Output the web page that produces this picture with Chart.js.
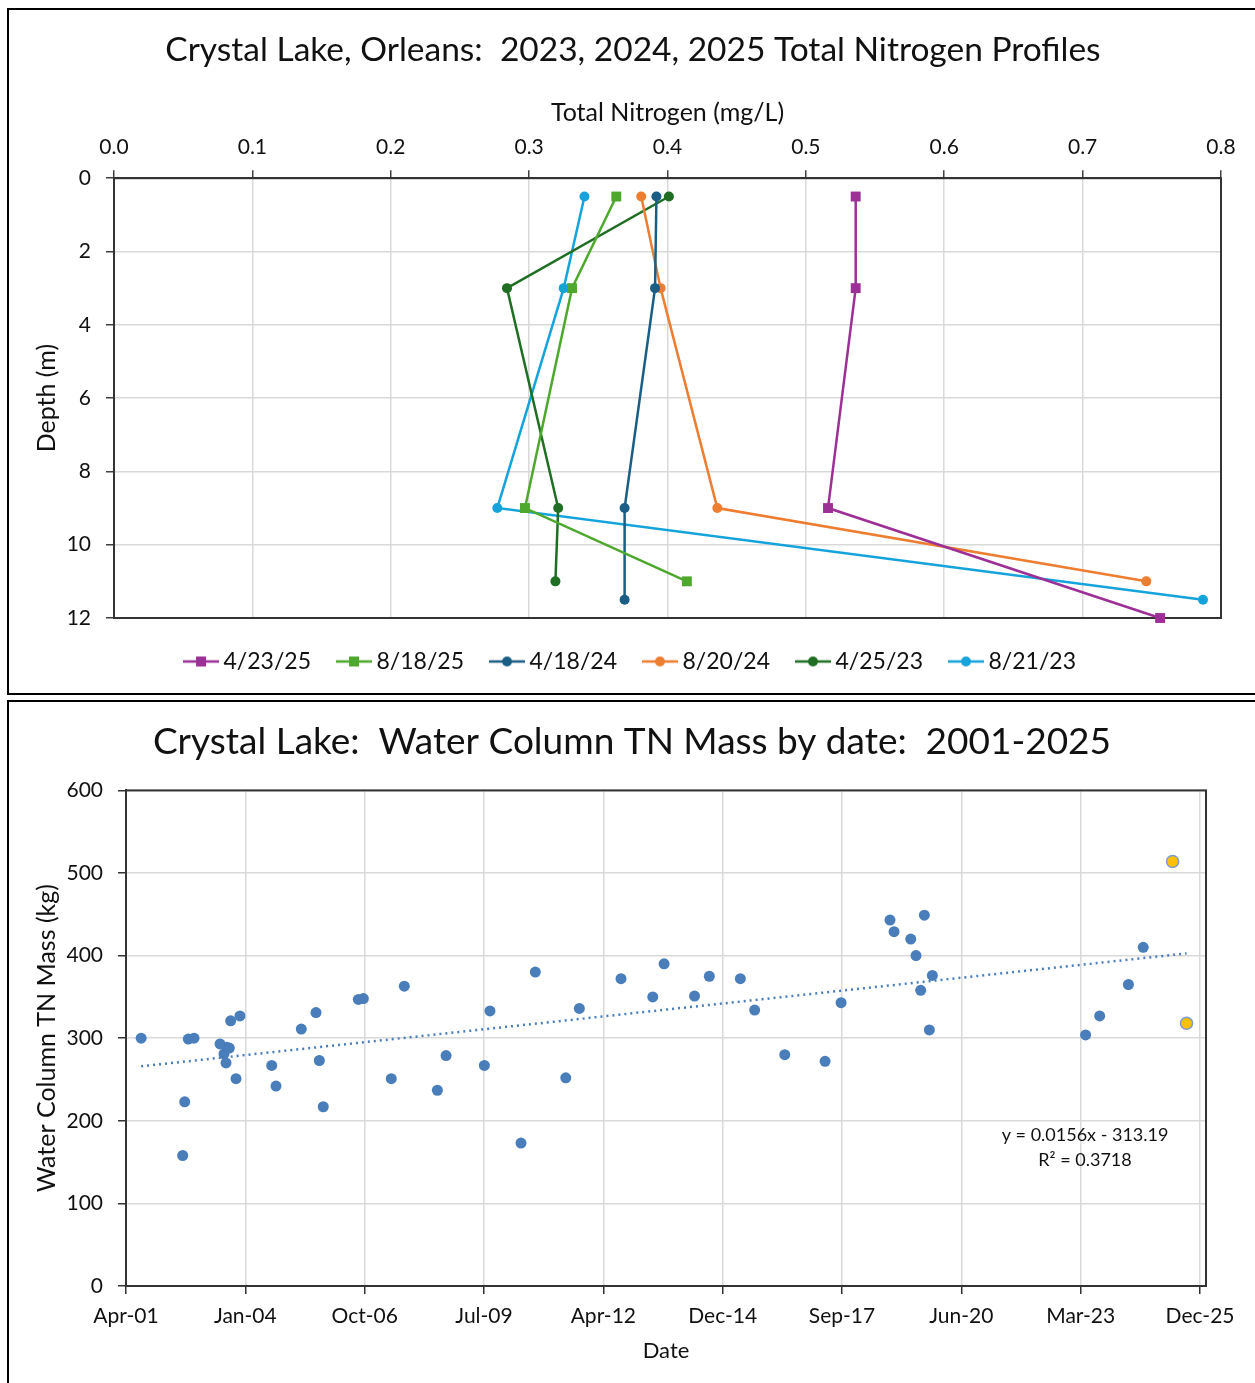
<!DOCTYPE html>
<html>
<head>
<meta charset="utf-8">
<title>Crystal Lake, Orleans – Total Nitrogen</title>
<script src="https://cdn.jsdelivr.net/npm/chart.js@4.4.1/dist/chart.umd.min.js"></script>
<style>
  html, body { margin: 0; padding: 0; background: #fff; }
  body { width: 1255px; height: 1383px; position: relative; overflow: hidden; }
  .wrap { position: absolute; left: 0; width: 1255px; }
  #wrapTop { top: 0; height: 683px; }
  #wrapBottom { top: 700px; height: 683px; }
  .frame { position: absolute; border: 2px solid #000; box-sizing: border-box; pointer-events: none; }
  #frameTop { left: 7px; top: 8px; width: 1260px; height: 687px; }
  #frameBottom { left: 7px; top: 700px; width: 1260px; height: 700px; }
</style>
</head>
<body>
<div class="wrap" id="wrapTop"><canvas id="profileChart"></canvas></div>
<div class="wrap" id="wrapBottom"><canvas id="massChart"></canvas></div>
<div class="frame" id="frameTop"></div>
<div class="frame" id="frameBottom"></div>

<script>
// ---- profile data (depth in m, TN in mg/L) ----
const profileNames = ["4/23/25", "8/18/25", "4/18/24", "8/20/24", "4/25/23", "8/21/23"];
const profileColors = ["#9c3096", "#4ea82e", "#1b5e85", "#ed7d31", "#1f6e23", "#16a3dc"];
const profileMarkers = ["rect", "rect", "circle", "circle", "circle", "circle"];

const depthApr25 = [0.5, 3, 9, 12];
const tnApr25 = [0.536, 0.536, 0.516, 0.756];
const depthAug25 = [0.5, 3, 9, 11];
const tnAug25 = [0.363, 0.331, 0.297, 0.414];
const depthApr24 = [0.5, 3, 9, 11.5];
const tnApr24 = [0.392, 0.391, 0.369, 0.369];
const depthAug24 = [0.5, 3, 9, 11];
const tnAug24 = [0.381, 0.395, 0.436, 0.746];
const depthApr23 = [0.5, 3, 9, 11];
const tnApr23 = [0.401, 0.284, 0.321, 0.319];
const depthAug23 = [0.5, 3, 9, 11.5];
const tnAug23 = [0.340, 0.325, 0.277, 0.787];

const profileDepths = [depthApr25, depthAug25, depthApr24, depthAug24, depthApr23, depthAug23];
const profileTN = [tnApr25, tnAug25, tnApr24, tnAug24, tnApr23, tnAug23];

// ---- water column TN mass by sampling date (kg) ----
const sampleDates = [
  "2001-08-24", "2002-08-07", "2002-08-24", "2002-09-23", "2002-11-10",
  "2003-06-16", "2003-07-19", "2003-08-05", "2003-08-11", "2003-09-02",
  "2003-09-13", "2003-10-28", "2003-11-30", "2004-08-22", "2004-09-27",
  "2005-04-27", "2005-08-28", "2005-09-25", "2005-10-28", "2006-08-18",
  "2006-09-29", "2007-05-21", "2007-09-07", "2008-06-10", "2008-08-22",
  "2009-07-09", "2009-08-25", "2010-05-12", "2010-09-09", "2011-05-22",
  "2011-09-13", "2012-08-27", "2013-05-20", "2013-08-23", "2014-05-05",
  "2014-09-06", "2015-05-24", "2015-09-21", "2016-05-30", "2017-05-03",
  "2017-09-14", "2018-10-29", "2018-12-02", "2019-04-21", "2019-06-04",
  "2019-07-13", "2019-08-13", "2019-09-24", "2019-10-19", "2023-04-25",
  "2023-08-21", "2024-04-18", "2024-08-20"
];
const sampleMass = [
  300, 158, 223, 299, 300,
  293, 281, 270, 289, 288,
  321, 251, 327, 267, 242,
  311, 331, 273, 217, 347,
  348, 251, 363, 237, 279,
  267, 333, 173, 380, 252,
  336, 372, 350, 390, 351,
  375, 372, 334, 280, 272,
  343, 443, 429, 420, 400,
  358, 449, 310, 376, 304,
  327, 365, 410
];
// 2025 samples, highlighted
const recentDates = ["2025-04-23", "2025-08-18"];
const recentMass = [514, 318];

// Excel linear trendline as printed on the chart (x = Excel date serial)
const trendSlope = 0.0156;
const trendIntercept = -313.19;
const trendText = ["y = 0.0156x - 313.19", "R\u00b2 = 0.3718"];

// date axis: Excel serials, one tick every 1000 days
const dateAxisMin = 37000;
const dateAxisMax = 46050;
const dateTickStep = 1000;
const monthNames = ["Jan", "Feb", "Mar", "Apr", "May", "Jun", "Jul", "Aug", "Sep", "Oct", "Nov", "Dec"];

Chart.defaults.font.family = "Lato, 'Open Sans', sans-serif";
Chart.defaults.color = "#111";
Chart.defaults.animation = false;

// ISO date -> Excel serial day number
function toSerial(iso) {
  const [y, m, d] = iso.split("-").map(Number);
  return Date.UTC(y, m - 1, d) / 86400000 + 25569;
}
function serialLabel(v) {
  const d = new Date((v - 25569) * 86400000);
  return monthNames[d.getUTCMonth()] + "-" + String(d.getUTCFullYear() % 100).padStart(2, "0");
}

// line + marker swatch for the legend, like Excel draws it
function legendSwatch(color, marker) {
  const c = document.createElement("canvas");
  c.width = 36; c.height = 14;
  const g = c.getContext("2d");
  g.strokeStyle = color; g.lineWidth = 2.5;
  g.beginPath(); g.moveTo(0, 7); g.lineTo(36, 7); g.stroke();
  g.fillStyle = color;
  if (marker === "rect") g.fillRect(13, 2, 10, 10);
  else { g.beginPath(); g.arc(18, 7, 5, 0, Math.PI * 2); g.fill(); }
  return c;
}

// plot area frame drawn under the series
const plotFrame = {
  id: "plotFrame",
  beforeDatasetsDraw(chart, args, opts) {
    const a = chart.chartArea, ctx = chart.ctx;
    ctx.save();
    ctx.strokeStyle = opts.color || "#333";
    ctx.lineWidth = opts.width || 2;
    ctx.strokeRect(a.left, a.top, a.right - a.left, a.bottom - a.top);
    ctx.restore();
  }
};

// ---- chart 1: depth profiles ----
const profileSets = profileNames.map((name, i) => ({
  label: name,
  data: profileDepths[i].map((d, k) => ({ x: profileTN[i][k], y: d })),
  showLine: true,
  clip: false,
  borderColor: profileColors[i],
  backgroundColor: profileColors[i],
  borderWidth: 2.5,
  pointStyle: profileMarkers[i],
  pointRadius: profileMarkers[i] === "rect" ? 7 : 5,
  pointBorderWidth: 0,
  swatch: legendSwatch(profileColors[i], profileMarkers[i])
}));

new Chart(document.getElementById("profileChart"), {
  type: "scatter",
  data: { datasets: profileSets },
  options: {
    responsive: true,
    maintainAspectRatio: false,
    layout: { padding: { left: 45, right: 34, top: 0, bottom: 0 } },
    plugins: {
      title: {
        display: true,
        text: "Crystal Lake, Orleans:  2023, 2024, 2025 Total Nitrogen Profiles",
        font: { size: 33.5, weight: "normal" },
        color: "#111",
        padding: { top: 30, bottom: 0 }
      },
      legend: {
        position: "bottom",
        labels: {
          usePointStyle: true,
          pointStyleWidth: 22,
          padding: 32,
          font: { size: 23 },
          color: "#111",
          generateLabels: (chart) => chart.data.datasets.map((ds, i) => ({
            text: ds.label,
            pointStyle: ds.swatch,
            fillStyle: ds.borderColor,
            strokeStyle: ds.borderColor,
            lineWidth: 0,
            fontColor: "#111",
            datasetIndex: i,
            hidden: false
          }))
        }
      },
      tooltip: { enabled: false },
      plotFrame: { color: "#333", width: 2 }
    },
    scales: {
      x: {
        type: "linear",
        position: "top",
        min: 0,
        max: 0.8,
        ticks: { stepSize: 0.1, padding: 10, font: { size: 21 }, color: "#111", callback: (v) => v.toFixed(1) },
        grid: { color: "#d9d9d9", lineWidth: 1.5, tickColor: "#404040", tickLength: 8, tickWidth: 1.5 },
        border: { color: "#333", width: 2 },
        title: { display: true, text: "Total Nitrogen (mg/L)", font: { size: 25 }, color: "#111", padding: { top: 28, bottom: 0 } },
        afterFit: (s) => { s.height = 108; }
      },
      y: {
        type: "linear",
        reverse: true,
        min: 0,
        max: 12,
        ticks: { stepSize: 2, padding: 15, font: { size: 21 }, color: "#111" },
        grid: { color: "#d9d9d9", lineWidth: 1.5, tickColor: "#404040", tickLength: 8, tickWidth: 1.5 },
        border: { color: "#333", width: 2 },
        title: { display: true, text: "Depth (m)", font: { size: 25 }, color: "#111", padding: { top: -13, bottom: 0 } },
        afterFit: (s) => { s.width = 69; }
      }
    }
  },
  plugins: [plotFrame]
});

// ---- chart 2: water column TN mass ----
const massPoints = sampleDates.map((d, i) => ({ x: toSerial(d), y: sampleMass[i] }));
const recentPoints = recentDates.map((d, i) => ({ x: toSerial(d), y: recentMass[i] }));
const allX = massPoints.concat(recentPoints).map((p) => p.x);
const trendX = [Math.min(...allX), Math.max(...allX)];
const trendPoints = trendX.map((x) => ({ x: x, y: trendSlope * x + trendIntercept }));

const trendLabel = {
  id: "trendLabel",
  afterDraw(chart) {
    const a = chart.chartArea, ctx = chart.ctx;
    const cx = a.left + (a.right - a.left) * 0.888;
    const cy = a.top + (a.bottom - a.top) * 0.696;
    ctx.save();
    ctx.font = "18px Lato, 'Open Sans', sans-serif";
    ctx.fillStyle = "#111";
    ctx.textAlign = "center";
    ctx.textBaseline = "middle";
    ctx.fillText(trendText[0], cx, cy);
    ctx.fillText(trendText[1], cx, cy + 25);
    ctx.restore();
  }
};

new Chart(document.getElementById("massChart"), {
  type: "scatter",
  data: {
    datasets: [
      {
        label: "Linear trend",
        data: trendPoints,
        showLine: true,
        borderColor: "#4a7ebb",
        borderWidth: 2.5,
        borderDash: [2, 4],
        pointRadius: 0,
        order: 0
      },
      {
        label: "2025",
        data: recentPoints,
        backgroundColor: "#ffc000",
        borderColor: "#7b9cd0",
        borderWidth: 1.5,
        pointRadius: 6,
        order: 1
      },
      {
        label: "TN mass",
        data: massPoints,
        backgroundColor: "#4a7ebb",
        borderColor: "#4a7ebb",
        borderWidth: 0,
        pointRadius: 5.5,
        order: 2
      }
    ]
  },
  options: {
    responsive: true,
    maintainAspectRatio: false,
    layout: { padding: { left: 58, right: 49, top: 0, bottom: 0 } },
    plugins: {
      title: {
        display: true,
        text: "Crystal Lake:  Water Column TN Mass by date:  2001-2025",
        font: { size: 37, weight: "normal" },
        color: "#111",
        padding: { top: 20, bottom: 26 }
      },
      legend: { display: false },
      tooltip: { enabled: false },
      plotFrame: { color: "#333", width: 2 }
    },
    scales: {
      x: {
        type: "linear",
        min: dateAxisMin,
        max: dateAxisMax,
        afterBuildTicks: (s) => {
          const t = [];
          for (let v = dateAxisMin; v <= dateAxisMax; v += dateTickStep) t.push({ value: v });
          s.ticks = t;
        },
        ticks: { padding: 10, font: { size: 21 }, color: "#111", callback: (v) => serialLabel(v) },
        grid: { color: "#d9d9d9", lineWidth: 1.5, tickColor: "#333", tickLength: 8, tickWidth: 1.5 },
        border: { color: "#222", width: 2 },
        title: { display: true, text: "Date", font: { size: 22 }, color: "#111", padding: { top: 0, bottom: 19 } },
        afterFit: (s) => { s.height = 97; }
      },
      y: {
        type: "linear",
        min: 0,
        max: 600,
        ticks: { stepSize: 100, padding: 15, font: { size: 21 }, color: "#111" },
        grid: { color: "#d9d9d9", lineWidth: 1.5, tickColor: "#333", tickLength: 8, tickWidth: 1.5 },
        border: { color: "#222", width: 2 },
        title: { display: true, text: "Water Column TN Mass (kg)", font: { size: 25 }, color: "#111", padding: { top: -26, bottom: 0 } },
        afterFit: (s) => { s.width = 68; }
      }
    }
  },
  plugins: [plotFrame, trendLabel]
});
</script>
</body>
</html>
